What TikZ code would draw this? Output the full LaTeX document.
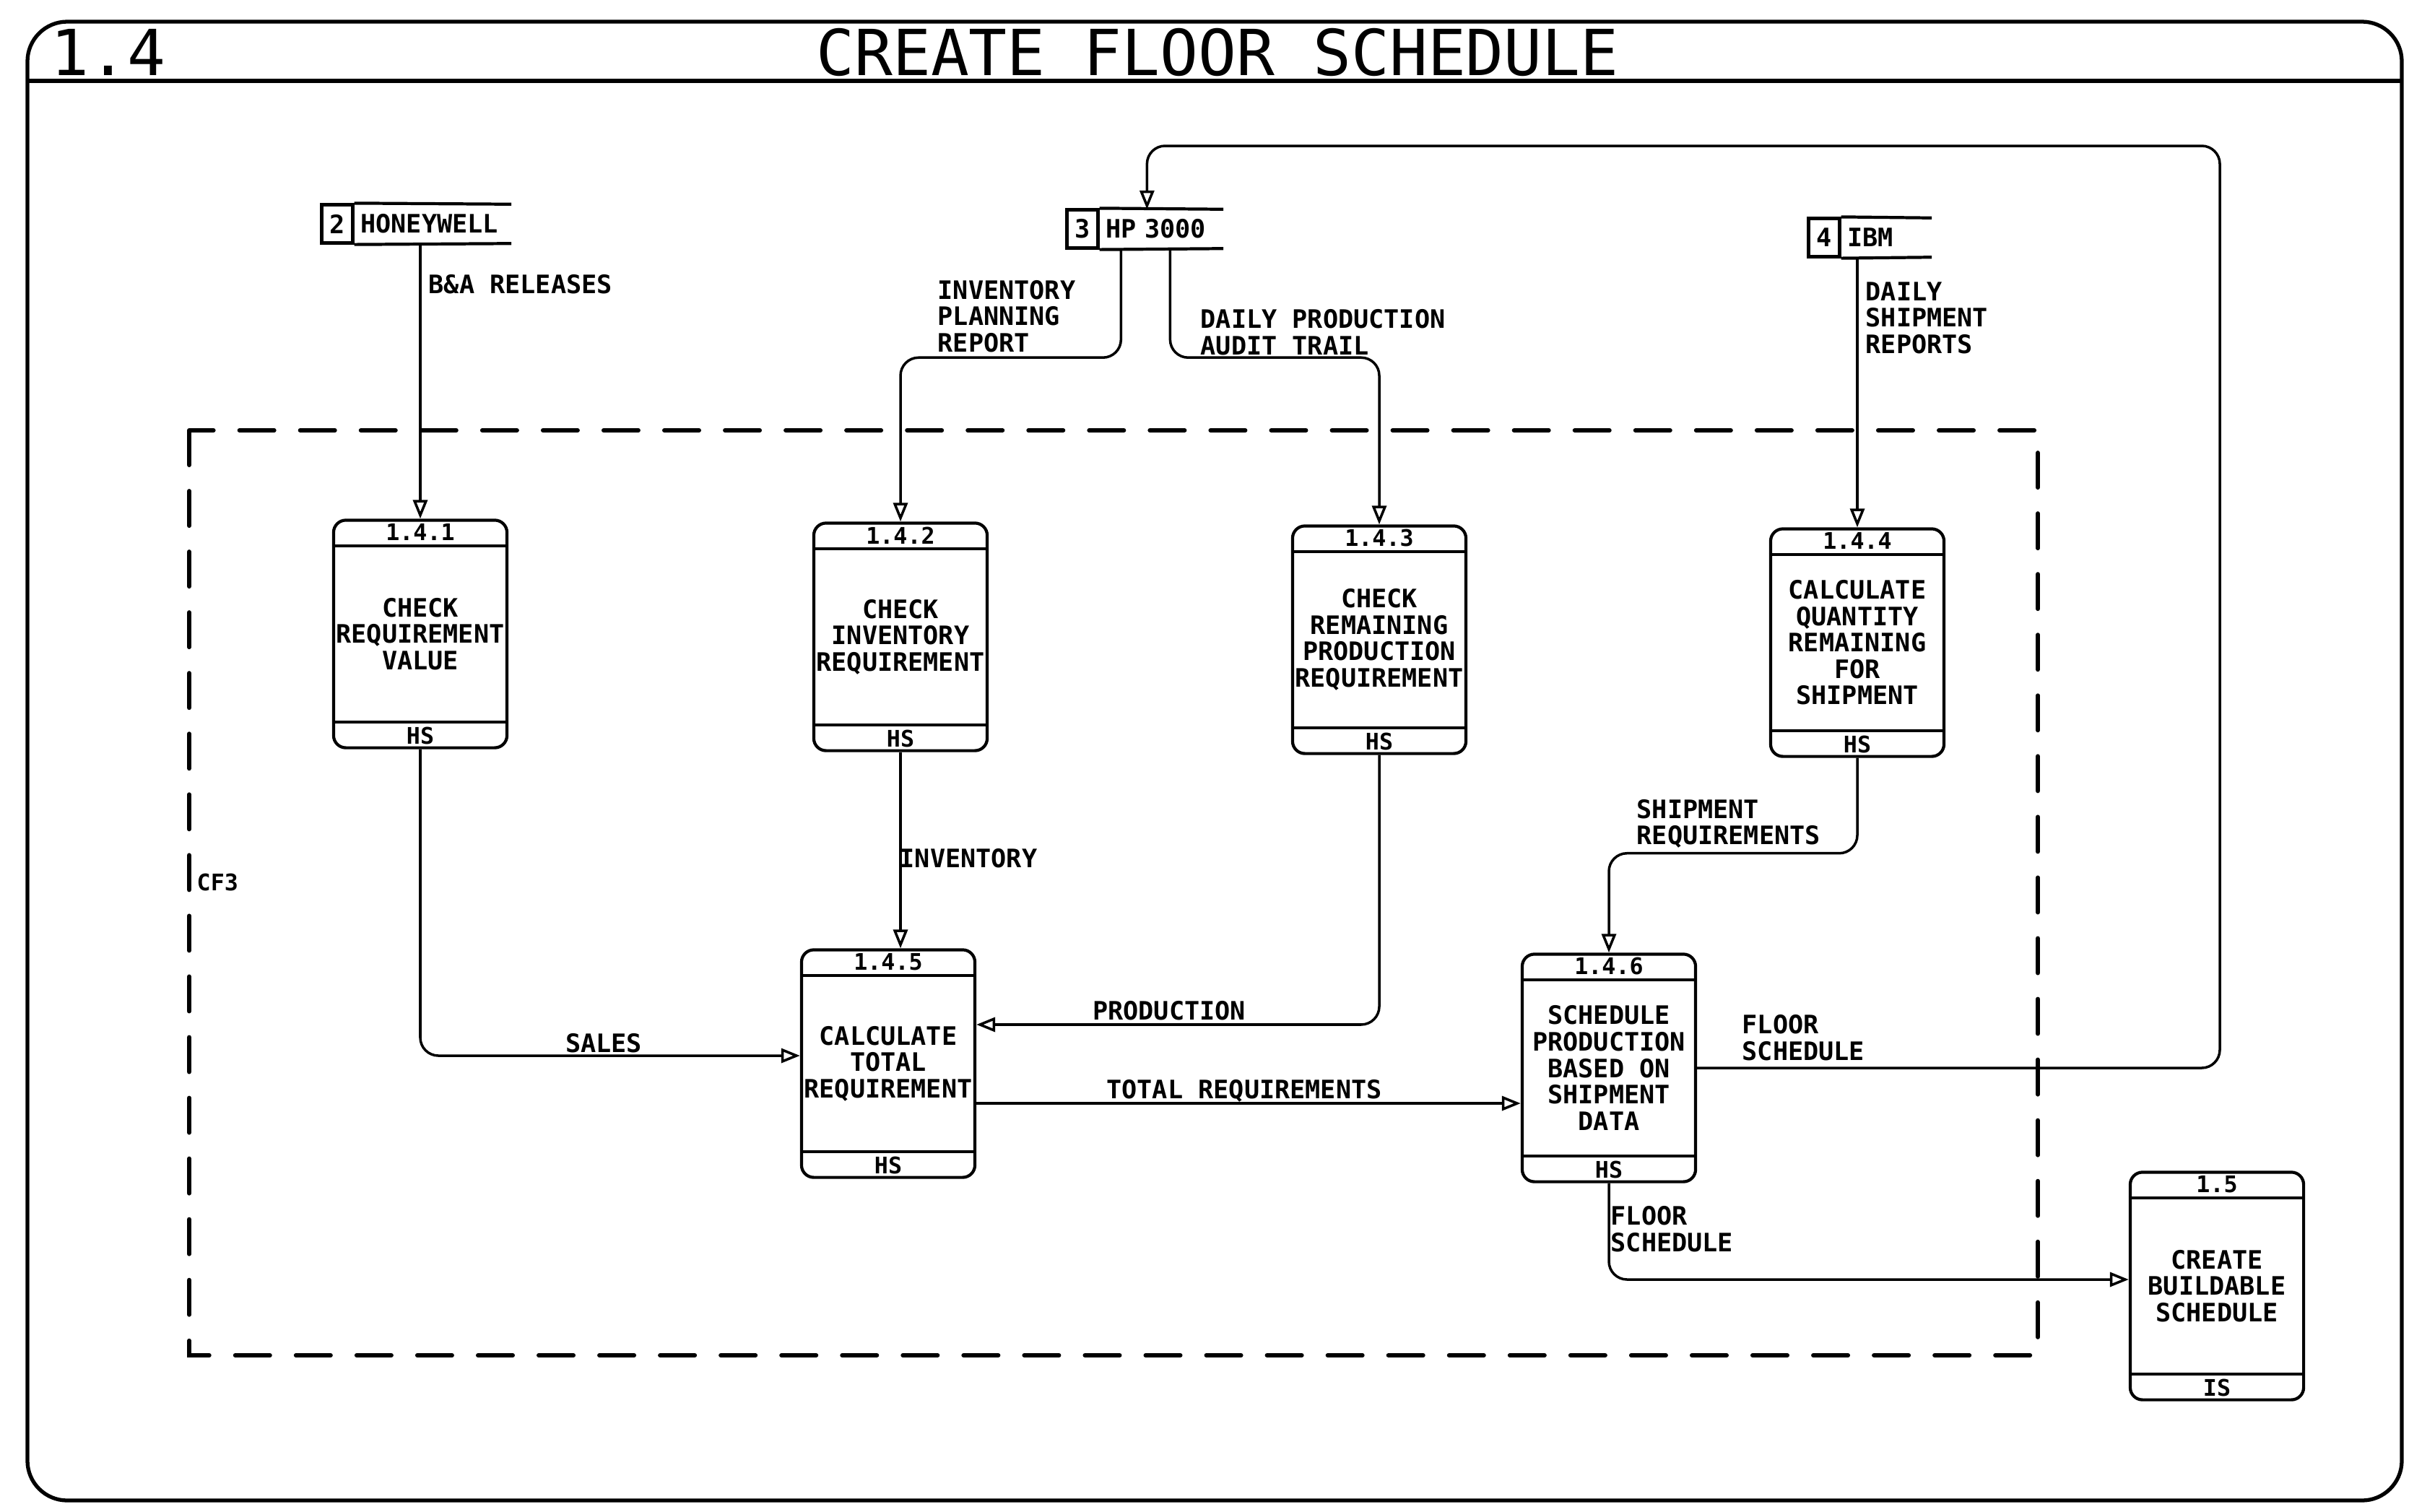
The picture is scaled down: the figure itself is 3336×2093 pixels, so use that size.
\documentclass[tikz,border=0pt]{standalone}
\usepackage{fontspec}
\usepackage{tikz}
\usetikzlibrary{arrows.meta,positioning,calc}
\newfontfamily\plotfont{DejaVu Sans Mono}

\tikzset{
  box/.style={line width=1.2pt},
  proc/.style={draw, line width=1.2pt, rounded corners=0.17cm, minimum width=2.4cm,
    minimum height=3.15cm, inner sep=0pt, align=center},
  tag/.style={inner sep=0pt, font=\plotfont\bfseries\fontsize{9}{9}\selectfont},
  storeid/.style={draw, line width=1.2pt, minimum width=0.43cm, minimum height=0.53cm, inner sep=0pt},
  storename/.style={minimum height=0.53cm, inner xsep=0.08cm, inner ysep=0pt, text width=#1, align=left},
  flow/.style={line width=1pt, rounded corners=0.25cm, -{Triangle[open,length=0.26cm,width=0.2cm]}},
  lbl/.style={inner sep=0pt, align=left},
  boundary/.style={line width=1.7pt, line cap=round, dash pattern=on 0.48cm off 0.36cm}
}

\begin{document}
\begin{tikzpicture}[x=0.01cm,y=-0.01cm,font=\plotfont\bfseries\fontsize{10}{10.4}\selectfont]
  \useasboundingbox (0,0) rectangle (3336,2093);
  % frame and title
  \draw[line width=1.5pt,rounded corners=0.55cm] (38,30) rectangle (3326,2078);
  \draw[line width=1.5pt] (38,112) -- (3326,112);
  \node[font=\plotfont\mdseries\fontsize{25}{25}\selectfont] (num) at (150,72) {1.4};
  \node[font=\plotfont\mdseries\fontsize{25}{25}\selectfont] (title) at (1686,72) {CREATE FLOOR SCHEDULE};
  % context boundary
  \draw[boundary] (262,596) rectangle (2822,1877);
  \node[anchor=west,inner sep=0pt,font=\plotfont\bfseries\fontsize{9}{9}\selectfont] (cf) at (272,1222) {CF3};
  % external stores
  \node[storeid] (hw-id) at (467,310) {2};
  \node[storename=2.0cm,anchor=west] (hw) at (hw-id.east) {HONEYWELL};
  \node[storeid] (hp-id) at (1499,317) {3};
  \node[storename=1.54cm,anchor=west] (hp) at (hp-id.east) {HP 3000};
  \node[storeid] (ibm-id) at (2526,329) {4};
  \node[storename=1.08cm,anchor=west] (ibm) at (ibm-id.east) {IBM};
  \foreach \s in {hw,hp,ibm}
    \draw[box] (\s-id.north east) -- (\s.north east) (\s-id.south east) -- (\s.south east);
  % processes
  \node[proc] (p1) at (582,878) {CHECK\\REQUIREMENT\\VALUE};
  \node[proc] (p2) at (1247,882) {CHECK\\INVENTORY\\REQUIREMENT};
  \node[proc] (p3) at (1910,886) {CHECK\\REMAINING\\PRODUCTION\\REQUIREMENT};
  \node[proc] (p4) at (2572,890) {CALCULATE\\QUANTITY\\REMAINING\\FOR\\SHIPMENT};
  \node[proc] (p5) at (1230,1473) {CALCULATE\\TOTAL\\REQUIREMENT};
  \node[proc] (p6) at (2228,1479) {SCHEDULE\\PRODUCTION\\BASED ON\\SHIPMENT\\DATA};
  \node[proc] (bs) at (3070,1781) {CREATE\\BUILDABLE\\SCHEDULE};
  \foreach \p/\id/\who in {p1/1.4.1/HS, p2/1.4.2/HS, p3/1.4.3/HS, p4/1.4.4/HS,
                           p5/1.4.5/HS, p6/1.4.6/HS, bs/1.5/IS}{
    \draw[box] ([yshift=-0.38cm]\p.north west) -- ([yshift=-0.38cm]\p.north east);
    \draw[box] ([yshift=0.38cm]\p.south west) -- ([yshift=0.38cm]\p.south east);
    \node[tag] (\p-id) at ([yshift=-0.19cm]\p.north) {\id};
    \node[tag] (\p-who) at ([yshift=0.19cm]\p.south) {\who};
  }
  % data flows
  \draw[flow] (p1.north |- hw.south) -- (p1.north);
  \draw[flow] ([xshift=-0.56cm]hp.south) -- ++(0,151) -| (p2.north);
  \draw[flow] ([xshift=0.12cm]hp.south) -- ++(0,151) -| (p3.north);
  \draw[flow] (p4.north |- ibm.south) -- (p4.north);
  \coordinate (fbtop) at (3074,202);
  \draw[flow] (p6.east) -| (fbtop) -| ([xshift=-0.2cm]hp.north);
  \draw[flow] (p1.south) |- ([yshift=0.11cm]p5.west);
  \draw[flow] (p2.south) -- (p2.south |- p5.north);
  \draw[flow] (p3.south) |- ([yshift=0.54cm]p5.east);
  \draw[flow] ([yshift=-0.55cm]p5.east) coordinate (tr) -- (tr -| p6.west);
  \draw[flow] (p4.south) -- ++(0,132) -| (p6.north);
  \draw[flow] (p6.south) |- ([yshift=0.09cm]bs.west);
  % flow labels
  \node[lbl,anchor=west] (l-ba) at (593,394) {B\&A RELEASES};
  \node[lbl,anchor=west] (l-ipr) at (1298,438) {INVENTORY\\PLANNING\\REPORT};
  \node[lbl,anchor=west] (l-dpat) at (1662,460) {DAILY PRODUCTION\\AUDIT TRAIL};
  \node[lbl,anchor=west] (l-dsr) at (2583,440) {DAILY\\SHIPMENT\\REPORTS};
  \node[lbl,anchor=west] (l-fs1) at (2412,1437) {FLOOR\\SCHEDULE};
  \node[lbl,anchor=west] (l-inv) at (1245,1189) {INVENTORY};
  \node[lbl] (l-sales) at (836,1445) {SALES};
  \node[lbl] (l-prod) at (1619,1400) {PRODUCTION};
  \node[lbl] (l-tot) at (1723,1511) {TOTAL REQUIREMENTS};
  \node[lbl,anchor=west] (l-sr) at (2266,1141) {SHIPMENT\\REQUIREMENTS};
  \node[lbl,anchor=west] (l-fs2) at (2230,1702) {FLOOR\\SCHEDULE};
\end{tikzpicture}
\end{document}
